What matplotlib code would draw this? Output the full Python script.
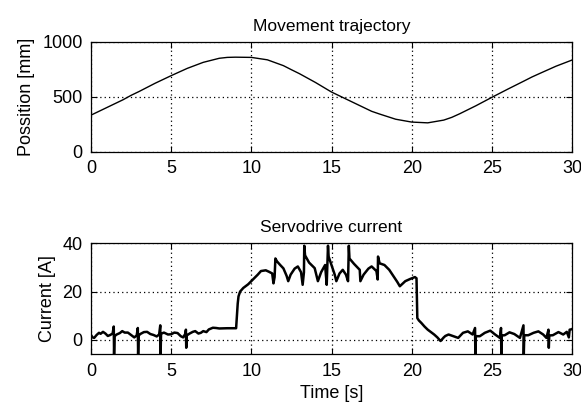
import numpy as np
import matplotlib.pyplot as plt

# position trajectory (t in s, mm)
t_pos = [0, 1, 2, 2.5, 3, 4, 5, 6, 7, 8, 8.5, 9, 10, 11, 12, 12.5, 13, 14, 15,
         16, 17, 17.5, 18, 19, 20, 21, 22, 22.5, 23, 24, 25, 26, 27, 27.5, 28, 29, 30]
pos = [335, 405, 475, 515, 550, 625, 694, 760, 815, 852, 860, 862, 860, 838, 785, 748, 712, 632, 545,
       475, 405, 370, 345, 298, 272, 265, 290, 315, 348, 420, 497, 572, 645, 682, 715, 780, 836]

# servodrive current (t in s, A)
t_cur = [0.0, 0.1, 0.2, 0.35, 0.5, 0.6, 0.75, 0.9, 1.05, 1.2, 1.35, 1.42, 1.44, 1.47,
         1.6, 1.8, 1.95, 2.1, 2.3, 2.5, 2.7, 2.85, 2.92, 2.94, 2.97,
         3.1, 3.3, 3.5, 3.7, 3.9, 4.1, 4.25, 4.32, 4.34, 4.37,
         4.55, 4.8, 5.0, 5.2, 5.4, 5.6, 5.75, 5.88, 5.92, 5.94, 5.97,
         6.15, 6.35, 6.5, 6.7, 6.85, 7.0, 7.2, 7.35, 7.6, 7.8, 8.0, 8.5, 9.05,
         9.1, 9.15, 9.2, 9.3, 9.5, 9.8, 10.1, 10.4, 10.6, 10.9, 11.1, 11.3, 11.38, 11.45,
         11.5, 11.6, 11.8, 12.0, 12.2, 12.3, 12.45, 12.7, 12.9, 13.1, 13.2, 13.28,
         13.3, 13.35, 13.6, 13.95, 14.15, 14.35, 14.6, 14.7, 14.78, 14.82, 15.0,
         15.2, 15.3, 15.5, 15.7, 15.9, 16.03, 16.08, 16.12, 16.4, 16.76, 16.8,
         17.0, 17.3, 17.5, 17.8, 17.88, 17.9, 18.0, 18.3, 18.6, 18.9, 19.1, 19.26,
         19.6, 19.9, 20.2, 20.3, 20.35, 20.45, 20.6, 20.8, 21.0, 21.2, 21.4, 21.6,
         21.8, 22.0, 22.1, 22.3, 22.6, 22.9, 23.2, 23.5, 23.8, 23.95, 23.97, 24.0,
         24.25, 24.56, 24.9, 25.2, 25.5, 25.57, 25.59, 25.62, 25.8, 26.1, 26.4, 26.75,
         26.97, 26.99, 27.02, 27.27, 27.6, 27.9, 28.2, 28.4, 28.53, 28.55, 28.58,
         28.8, 29.15, 29.45, 29.67, 29.8, 29.85, 30.0]
cur = [2.0, 1.0, 0.8, 2.0, 2.9, 2.5, 3.3, 2.6, 1.6, 2.0, 2.6, 5.5, -6, 1.5,
       2.2, 2.8, 3.6, 3.0, 3.0, 2.0, 1.0, 1.8, 4.9, -6, 1.8,
       2.5, 3.2, 3.3, 2.4, 2.0, 1.4, 2.2, 6.0, -6, 2.5,
       3.0, 2.2, 2.3, 3.0, 2.8, 1.5, 1.0, 2.5, 4.2, -3.3, 1.8,
       2.6, 3.3, 3.6, 2.6, 2.9, 3.6, 3.2, 4.3, 5.0, 4.9, 4.7, 4.8, 4.8,
       10, 15, 18, 20, 21.5, 23, 25, 27, 28.5, 28.8, 28.2, 27.5, 23.4, 26,
       33.7, 32.5, 31, 29.6, 26.5, 24.3, 27, 29.5, 30.4, 28, 22.8, 28,
       39, 35, 32, 29.7, 24.3, 28, 31, 22.8, 39, 34.5, 31,
       27, 24.3, 27.5, 29, 27, 24.3, 39, 33.7, 31.5, 29, 24.3,
       27, 29.5, 30.4, 28.5, 25, 34.5, 31.7, 31, 29, 26, 24, 22.2,
       24.3, 25.2, 26, 25.5, 9, 8, 7, 5.5, 4.2, 3.2, 2.2, 1.0,
       -0.5, 1.0, 1.6, 2.2, 1.5, 0.8, 2.9, 3.5, 2.2, 4.9, -6, 1.5,
       1.5, 2.9, 3.8, 2.2, 0.8, 4.9, -6, 1.8, 1.9, 3.1, 2.4, 0.8,
       6.0, -6, 1.9, 1.9, 2.9, 3.5, 2.2, 0.8, 4.2, -3.3, 1.8,
       1.9, 3.2, 2.2, 3.3, 1.0, 4.2, 4.4]

plt.rcParams['font.family'] = ['Liberation Sans', 'DejaVu Sans']
plt.rcParams['font.size'] = 13

fig = plt.figure(figsize=(5.81, 4.05), dpi=100)
ax1 = fig.add_axes([0.1566, 0.6247, 0.828, 0.2716])
ax2 = fig.add_axes([0.1566, 0.1252, 0.828, 0.2741])


def style(ax):
    ax.grid(True, color='black', linestyle=(0, (1, 2.5)), linewidth=0.9)
    ax.tick_params(direction='in', top=True, right=True, length=4, width=0.8,
                   labelsize=13, pad=6)
    for s in ax.spines.values():
        s.set_linewidth(0.9)


ax1.plot(t_pos, pos, color='black', linewidth=1.0)
ax1.set_xlim(0, 30)
ax1.set_ylim(0, 1000)
ax1.set_yticks([0, 500, 1000])
ax1.set_xticks([0, 5, 10, 15, 20, 25, 30])
ax1.set_title('Movement trajectory', fontsize=12.5, pad=8)
ax1.set_ylabel('Possition [mm]', labelpad=5)
style(ax1)

ax2.plot(t_cur, cur, color='black', linewidth=1.8)
ax2.set_xlim(0, 30)
ax2.set_ylim(-6, 40)
ax2.set_yticks([0, 20, 40])
ax2.set_xticks([0, 5, 10, 15, 20, 25, 30])
ax2.set_title('Servodrive current', fontsize=12.5, pad=8)
ax2.set_ylabel('Current [A]', labelpad=5)
ax2.set_xlabel('Time [s]', labelpad=4)
style(ax2)

fig.savefig('out.png', dpi=100)
